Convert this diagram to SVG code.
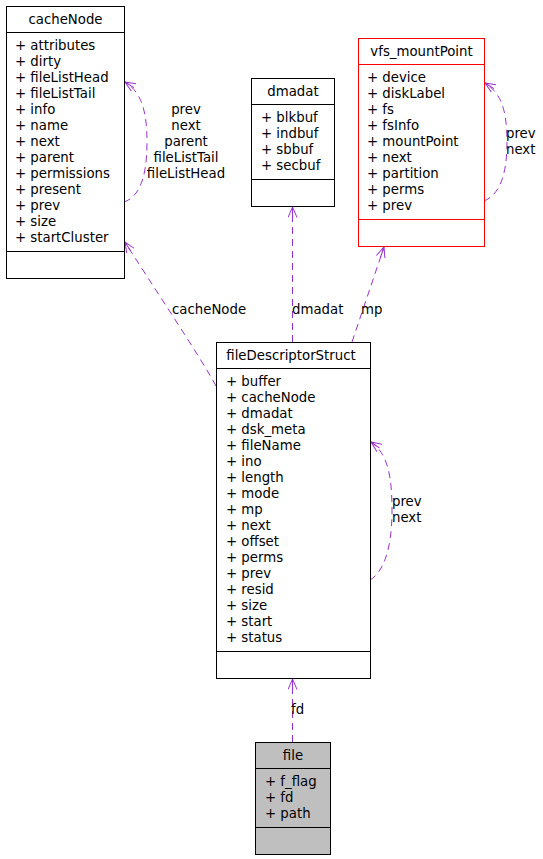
<svg xmlns="http://www.w3.org/2000/svg" width="543" height="859" viewBox="0 0 543 859">
<style>
text{font-family:"DejaVu Sans","Liberation Sans",sans-serif;font-size:13.3px;fill:#000}
.t{text-anchor:middle}
.box{fill:#fff;stroke:#000;stroke-width:1}
.red{stroke:#ff0000}
.grey{fill:#bfbfbf}
.sep{stroke:#000;stroke-width:1}
.sepr{stroke:#ff0000;stroke-width:1}
.edge{fill:none;stroke:#9a32cd;stroke-width:1;stroke-dasharray:7,5;marker-end:url(#vee)}
</style>
<defs>
<marker id="vee" viewBox="0 0 11 10" refX="10.5" refY="5" markerWidth="11" markerHeight="10" markerUnits="userSpaceOnUse" orient="auto">
<path d="M0,0.5 L10.5,5 L0,9.5 M0,5 L10.5,5" fill="none" stroke="#9a32cd" stroke-width="1" stroke-dasharray="none"/>
</marker>
</defs>
<g id="connectors">
<path class="edge" d="M124,202 C136,198 147,184 147,142 C147,110 141,92 125,82"/>
<path class="edge" d="M216,386 C200,356 150,282 125,242"/>
<path class="edge" d="M292.5,342 L292.5,207"/>
<path class="edge" d="M352,342 L384,247"/>
<path class="edge" d="M484,201 C496,196 507,182 507,142 C507,110 501,93 485,83"/>
<path class="edge" d="M370,580 C382,573 392,552 392,511 C392,476 388,454 371,442"/>
<path class="edge" d="M292.5,742 L292.5,679"/>
<text x="186" y="114" class="t">prev</text>
<text x="186" y="130" class="t">next</text>
<text x="186" y="146" class="t">parent</text>
<text x="186" y="162" class="t">fileListTail</text>
<text x="186" y="178" class="t">fileListHead</text>
<text x="172" y="313.5">cacheNode</text>
<text x="292" y="313.5">dmadat</text>
<text x="361" y="313.5">mp</text>
<text x="506" y="137.5">prev</text>
<text x="506" y="153.5">next</text>
<text x="392" y="505.5">prev</text>
<text x="392" y="521.5">next</text>
<text x="291" y="713.5">fd</text>
</g>
<g id="cacheNode">
<rect class="box" x="6.5" y="6.5" width="118" height="272"/>
<line class="sep" x1="6.5" y1="32.5" x2="124.5" y2="32.5"/>
<line class="sep" x1="6.5" y1="251.5" x2="124.5" y2="251.5"/>
<text x="65.5" y="23.5" class="t">cacheNode</text>
<text x="15" y="49.5">+ attributes</text>
<text x="15" y="65.5">+ dirty</text>
<text x="15" y="81.5">+ fileListHead</text>
<text x="15" y="97.5">+ fileListTail</text>
<text x="15" y="113.5">+ info</text>
<text x="15" y="129.5">+ name</text>
<text x="15" y="145.5">+ next</text>
<text x="15" y="161.5">+ parent</text>
<text x="15" y="177.5">+ permissions</text>
<text x="15" y="193.5">+ present</text>
<text x="15" y="209.5">+ prev</text>
<text x="15" y="225.5">+ size</text>
<text x="15" y="241.5">+ startCluster</text>
</g>
<g id="dmadat">
<rect class="box" x="251.5" y="78.5" width="83" height="128"/>
<line class="sep" x1="251.5" y1="104.5" x2="334.5" y2="104.5"/>
<line class="sep" x1="251.5" y1="179.5" x2="334.5" y2="179.5"/>
<text x="293" y="95.5" class="t">dmadat</text>
<text x="261" y="121.5">+ blkbuf</text>
<text x="261" y="137.5">+ indbuf</text>
<text x="261" y="153.5">+ sbbuf</text>
<text x="261" y="169.5">+ secbuf</text>
</g>
<g id="vfs_mountPoint">
<rect class="box red" x="358.5" y="38.5" width="126" height="208"/>
<line class="sepr" x1="358.5" y1="64.5" x2="484.5" y2="64.5"/>
<line class="sepr" x1="358.5" y1="219.5" x2="484.5" y2="219.5"/>
<text x="421.5" y="55.5" class="t">vfs_mountPoint</text>
<text x="367" y="81.5">+ device</text>
<text x="367" y="97.5">+ diskLabel</text>
<text x="367" y="113.5">+ fs</text>
<text x="367" y="129.5">+ fsInfo</text>
<text x="367" y="145.5">+ mountPoint</text>
<text x="367" y="161.5">+ next</text>
<text x="367" y="177.5">+ partition</text>
<text x="367" y="193.5">+ perms</text>
<text x="367" y="209.5">+ prev</text>
</g>
<g id="fileDescriptorStruct">
<rect class="box" x="216.5" y="342.5" width="154" height="336"/>
<line class="sep" x1="216.5" y1="368.5" x2="370.5" y2="368.5"/>
<line class="sep" x1="216.5" y1="651.5" x2="370.5" y2="651.5"/>
<text x="291" y="359.5" class="t">fileDescriptorStruct</text>
<text x="226" y="385.5">+ buffer</text>
<text x="226" y="401.5">+ cacheNode</text>
<text x="226" y="417.5">+ dmadat</text>
<text x="226" y="433.5">+ dsk_meta</text>
<text x="226" y="449.5">+ fileName</text>
<text x="226" y="465.5">+ ino</text>
<text x="226" y="481.5">+ length</text>
<text x="226" y="497.5">+ mode</text>
<text x="226" y="513.5">+ mp</text>
<text x="226" y="529.5">+ next</text>
<text x="226" y="545.5">+ offset</text>
<text x="226" y="561.5">+ perms</text>
<text x="226" y="577.5">+ prev</text>
<text x="226" y="593.5">+ resid</text>
<text x="226" y="609.5">+ size</text>
<text x="226" y="625.5">+ start</text>
<text x="226" y="641.5">+ status</text>
</g>
<g id="file">
<rect class="box grey" x="255.5" y="742.5" width="75" height="112"/>
<line class="sep" x1="255.5" y1="768.5" x2="330.5" y2="768.5"/>
<line class="sep" x1="255.5" y1="827.5" x2="330.5" y2="827.5"/>
<text x="293" y="759.5" class="t">file</text>
<text x="265" y="785.5">+ f_flag</text>
<text x="265" y="801.5">+ fd</text>
<text x="265" y="817.5">+ path</text>
</g>
</svg>
